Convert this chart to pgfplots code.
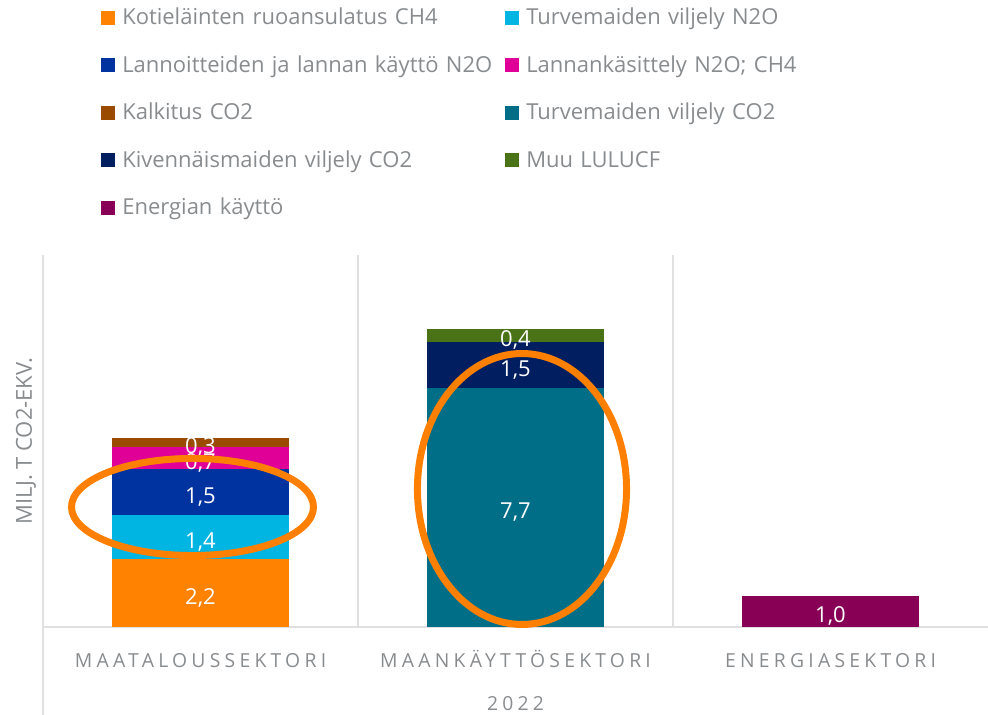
\documentclass[border=0pt]{standalone}
\usepackage{pgfplots}
\usepackage{pgfplotstable}
\pgfplotsset{compat=1.18}
\usepackage{fontspec}
\setmainfont{Open Sans}
\newfontfamily\spacedfont{Open Sans}[LetterSpace=22]
\definecolor{txtgray}{RGB}{137,140,143}
\definecolor{gridgray}{RGB}{224,224,224}
\definecolor{cOrange}{RGB}{255,130,0}
\definecolor{cCyan}{RGB}{0,181,226}
\definecolor{cBlue}{RGB}{0,51,160}
\definecolor{cMagenta}{RGB}{224,0,152}
\definecolor{cBrown}{RGB}{154,75,0}
\definecolor{cTeal}{RGB}{0,110,135}
\definecolor{cNavy}{RGB}{0,30,96}
\definecolor{cGreen}{RGB}{74,115,24}
\definecolor{cPurple}{RGB}{135,0,85}
\definecolor{ringOrange}{RGB}{255,128,0}
\pgfplotsset{sqlegend/.style={legend image code/.code={\fill[##1] (0pt,-5.25pt) rectangle (10.5pt,5.25pt);}}}
% x: 0 Maatalous, 1 Maankaytto, 2 Energia
\pgfplotstableread{
x kot turvn lann lkas kalk turvc kiv muu ener
0 2.2 1.4 1.5 0.7 0.3 0   0   0   0
1 0   0   0   0   0   7.7 1.5 0.4 0
2 0   0   0   0   0   0   0   0   1.0
}\data
\newcommand{\seg}[2]{\addplot[fill=#1, draw=none, visualization depends on={\thisrow{#2} \as \rawy}] table[x=x, y=#2] {\data};}
\begin{document}
\begin{tikzpicture}
\path[use as bounding box] (-32.25pt,-65.25pt) rectangle (708.75pt,470.25pt);
\begin{axis}[
  scale only axis, width=708.75pt, height=279pt,
  xmin=-0.5, xmax=2.5, ymin=0, ymax=12,
  clip=false,
  ybar stacked, bar width=0.562,
  every axis plot post/.append style={sqlegend},
  axis line style={draw=none},
  major tick length=0pt,
  ytick=\empty,
  xtick={0,1,2},
  xticklabels={MAATALOUSSEKTORI, MAANKÄYTTÖSEKTORI, ENERGIASEKTORI},
  xticklabel style={font=\spacedfont\fontsize{14.5}{14.5}\selectfont, text=txtgray, anchor=base, inner sep=0pt, yshift=-30pt},
  xlabel={2022},
  xlabel style={font=\spacedfont\fontsize{14.5}{14.5}\selectfont, text=txtgray, at={(axis description cs:0.5,-0.2245)}, anchor=base, inner sep=0pt},
  ylabel={MILJ. T CO2-EKV.},
  ylabel style={font=\fontsize{16.5}{16.5}\selectfont, text=txtgray, at={(axis description cs:-0.01164,0.5)}, anchor=base, inner sep=0pt},
  /pgf/number format/assume math mode=true,
  nodes near coords={\ifdim\rawy pt<0.01pt\else\pgfmathprintnumber[fixed,fixed zerofill,precision=1,use comma]{\rawy}\fi},
  nodes near coords align={anchor=center},
  every node near coord/.append style={anchor=center, yshift=-3.5pt, text=white, font=\fontsize{16.5}{16.5}\selectfont, inner sep=0pt},
  legend columns=2,
  legend cell align=left,
  legend style={draw=none, fill=none, inner sep=0pt,
    at={(axis description cs:0.06138,1.6676)}, anchor=north west,
    font=\fontsize{16.5}{16.5}\selectfont, text=txtgray,
    nodes={inner sep=0pt, text height=13.5pt, text depth=2.5pt, text width=287.25pt, align=left},
    row sep=19.625pt,
    /tikz/every odd column/.append style={column sep=5.25pt},
    /tikz/every even column/.append style={column sep=0pt}},
]
\seg{cOrange}{kot}
\seg{cCyan}{turvn}
\seg{cBlue}{lann}
\seg{cMagenta}{lkas}
\seg{cBrown}{kalk}
\seg{cTeal}{turvc}
\seg{cNavy}{kiv}
\seg{cGreen}{muu}
\seg{cPurple}{ener}
\legend{Kotieläinten ruoansulatus CH4, Turvemaiden viljely N2O, Lannoitteiden ja lannan käyttö N2O, Lannankäsittely N2O; CH4, Kalkitus CO2, Turvemaiden viljely CO2, Kivennäismaiden viljely CO2, Muu LULUCF, Energian käyttö}
\draw[gridgray, line width=1.5pt] (axis cs:0.5,0) -- (axis cs:0.5,12);
\draw[gridgray, line width=1.5pt] (axis cs:1.5,0) -- (axis cs:1.5,12);
\draw[gridgray, line width=1.5pt] (axis description cs:0,1) -- (axis description cs:0,-0.3118);
\draw[gridgray, line width=1.5pt] (axis cs:-0.5,0) -- (axis cs:2.5,0);
\coordinate (E1) at (axis cs:-0.0254,3.871);
\coordinate (E2) at (axis cs:1.0206,4.452);
\end{axis}
\draw[ringOrange, line width=5.25pt] (E1) ellipse [x radius=90.75pt, y radius=36.4pt];
\draw[ringOrange, line width=5.25pt] (E2) ellipse [x radius=78.4pt, y radius=101.6pt];
\end{tikzpicture}
\end{document}
